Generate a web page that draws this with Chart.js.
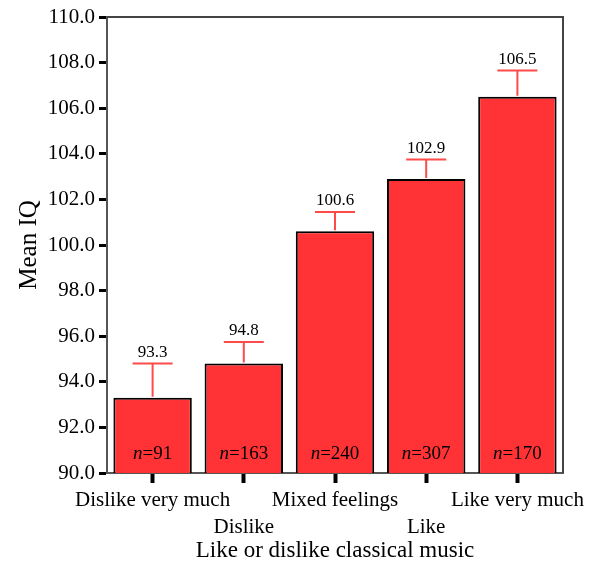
<!DOCTYPE html>
<html>
<head>
<meta charset="utf-8">
<script src="https://cdn.jsdelivr.net/npm/chart.js@4.4.1/dist/chart.umd.min.js"></script>
<style>
  html, body { margin: 0; padding: 0; background: #fff; }
  #wrap { width: 597px; height: 562px; }
</style>
</head>
<body>
<div id="wrap"><canvas id="chart"></canvas></div>
<script>
const categories = ['Dislike very much', 'Dislike', 'Mixed feelings', 'Like', 'Like very much'];
const meanIQ = [93.3, 94.8, 100.6, 102.9, 106.5];
const upperError = [94.8, 95.75, 101.45, 103.75, 107.65];
const sampleSizes = [91, 163, 240, 307, 170];

const FONT = '"Liberation Serif", "DejaVu Serif", serif';
const BAR_RED = '#ff3336';
const ERR_RED = '#ff4a4a';

// odd categories go on a second line so the labels stagger
const xLabels = categories.map((c, i) => i % 2 ? ['', c] : c);

const annotate = {
  id: 'annotate',
  afterDatasetsDraw(chart) {
    const { ctx, chartArea, scales: { x, y } } = chart;
    const bars = chart.getDatasetMeta(0).data;
    ctx.save();

    // error bars (upper only)
    ctx.strokeStyle = ERR_RED;
    ctx.lineWidth = 2;
    bars.forEach((bar, i) => {
      const top = y.getPixelForValue(upperError[i]);
      ctx.beginPath();
      ctx.moveTo(bar.x, bar.y - 1);
      ctx.lineTo(bar.x, top);
      ctx.moveTo(bar.x - 20, top);
      ctx.lineTo(bar.x + 20, top);
      ctx.stroke();
    });

    // mean labels
    ctx.fillStyle = '#000';
    ctx.textAlign = 'center';
    ctx.textBaseline = 'alphabetic';
    ctx.font = '17px ' + FONT;
    bars.forEach((bar, i) => {
      ctx.fillText(meanIQ[i].toFixed(1), bar.x, y.getPixelForValue(upperError[i]) - 7);
    });

    // n= labels
    const base = y.getPixelForValue(90) - 14;
    bars.forEach((bar, i) => {
      const rest = '=' + sampleSizes[i];
      ctx.font = 'italic 19px ' + FONT;
      const wn = ctx.measureText('n').width;
      ctx.font = '19px ' + FONT;
      const wr = ctx.measureText(rest).width;
      const left = bar.x - (wn + wr) / 2;
      ctx.textAlign = 'left';
      ctx.font = 'italic 19px ' + FONT;
      ctx.fillText('n', left, base);
      ctx.font = '19px ' + FONT;
      ctx.fillText(rest, left + wn, base);
    });

    // top and right frame
    ctx.strokeStyle = '#444';
    ctx.lineWidth = 2;
    ctx.beginPath();
    ctx.moveTo(chartArea.left, chartArea.top);
    ctx.lineTo(chartArea.right, chartArea.top);
    ctx.lineTo(chartArea.right, chartArea.bottom);
    ctx.stroke();
    ctx.restore();
  }
};

new Chart(document.getElementById('chart'), {
  type: 'bar',
  data: {
    labels: xLabels,
    datasets: [{
      label: 'Mean IQ',
      data: meanIQ,
      backgroundColor: BAR_RED,
      borderColor: '#000',
      borderWidth: 2,
      borderSkipped: false,
      barPercentage: 0.86,
      categoryPercentage: 1,
    }],
  },
  options: {
    responsive: true,
    maintainAspectRatio: false,
    animation: false,
    layout: { padding: { top: 17, right: 34, left: 10, bottom: 0 } },
    plugins: {
      legend: { display: false },
      tooltip: { enabled: false },
    },
    scales: {
      x: {
        grid: { drawOnChartArea: false, tickLength: 10, tickWidth: 4, tickColor: '#000', offset: false },
        border: { color: '#555', width: 2 },
        ticks: { color: '#000', font: { family: FONT, size: 21, lineHeight: 1.3 }, maxRotation: 0, autoSkip: false, padding: 4 },
        title: { display: true, text: 'Like or dislike classical music', color: '#000', font: { family: FONT, size: 23, lineHeight: 1 }, padding: { top: 0, bottom: 0 } },
        afterFit: s => { s.height = 89; },
      },
      y: {
        min: 90,
        max: 110,
        grid: { drawOnChartArea: false, tickLength: 8, tickWidth: 3, tickColor: '#000' },
        border: { color: '#555', width: 2 },
        ticks: { stepSize: 2, color: '#000', font: { family: FONT, size: 21 }, padding: 4, callback: v => v.toFixed(1) },
        title: { display: true, text: 'Mean IQ', color: '#000', font: { family: FONT, size: 25 }, padding: { bottom: 4 } },
        afterFit: s => { s.width = 97; },
      },
    },
  },
  plugins: [annotate],
});
</script>
</body>
</html>
